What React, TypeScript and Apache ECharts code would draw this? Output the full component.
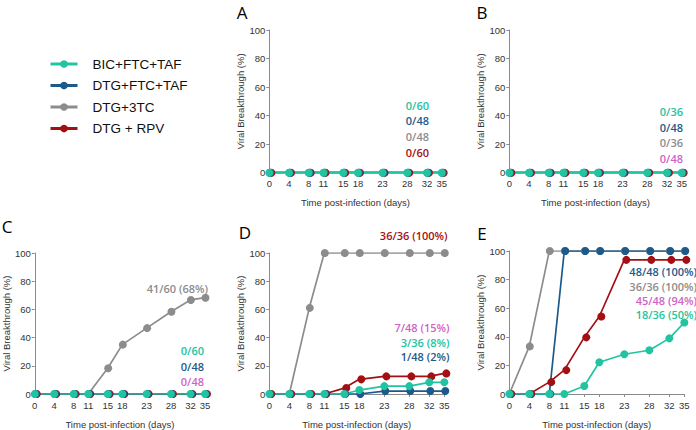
import React, { useEffect, useRef } from "react";
import * as echarts from "echarts";

// ---------- data ----------
const days = [0, 4, 8, 11, 15, 18, 23, 28, 32, 35];
const tickDays = [0, 4, 8, 11, 15, 18, 23, 28, 32, 35];
const seriesNames = ["BIC+FTC+TAF", "DTG+FTC+TAF", "DTG+3TC", "DTG + RPV"];

// Panel A
const aBic = [0, 0, 0, 0, 0, 0, 0, 0, 0, 0];
const aFtc = [0, 0, 0, 0, 0, 0, 0, 0, 0, 0];
const a3tc = [0, 0, 0, 0, 0, 0, 0, 0, 0, 0];
const aRpv = [0, 0, 0, 0, 0, 0, 0, 0, 0, 0];
// Panel B
const bBic = [0, 0, 0, 0, 0, 0, 0, 0, 0, 0];
const bFtc = [0, 0, 0, 0, 0, 0, 0, 0, 0, 0];
const b3tc = [0, 0, 0, 0, 0, 0, 0, 0, 0, 0];
const bRpv = [0, 0, 0, 0, 0, 0, 0, 0, 0, 0];
// Panel C
const cBic = [0, 0, 0, 0, 0, 0, 0, 0, 0, 0];
const cFtc = [0, 0, 0, 0, 0, 0, 0, 0, 0, 0];
const c3tc = [0, 0, 0, 0, 18.3, 35, 46.7, 58.3, 66.7, 68.3];
const cRpv = [0, 0, 0, 0, 0, 0, 0, 0, 0, 0];
// Panel D
const dBic = [0, 0, 0, 0, 0, 2.8, 5.6, 5.6, 8.3, 8.3];
const dFtc = [0, 0, 0, 0, 0, 0, 2.1, 2.1, 2.1, 2.1];
const d3tc = [0, 0, 61.1, 100, 100, 100, 100, 100, 100, 100];
const dRpv = [0, 0, 0, 0, 4.2, 10.4, 12.5, 12.5, 12.5, 14.6];
// Panel E
const eBic = [0, 0, 0, 0, 5.6, 22.2, 27.8, 30.6, 38.9, 50];
const eFtc = [0, 0, 0, 100, 100, 100, 100, 100, 100, 100];
const e3tc = [0, 33.3, 100, 100, 100, 100, 100, 100, 100, 100];
const eRpv = [0, 0, 8.3, 16.7, 39.6, 54.2, 93.8, 93.8, 93.8, 93.8];

// annotation texts
const aNotes = ["0/60", "0/48", "0/48", "0/60"];
const bNotes = ["0/36", "0/48", "0/36", "0/48"];
const cNotes = ["41/60 (68%)", "0/60", "0/48", "0/48"];
const dNotes = ["36/36 (100%)", "7/48 (15%)", "3/36 (8%)", "1/48 (2%)"];
const eNotes = ["48/48 (100%)", "36/36 (100%)", "45/48 (94%)", "18/36 (50%)"];

// ---------- styles ----------
const TEAL = "#21c4a0";
const NAVY = "#1b5a8a";
const GRAY = "#8c8c8c";
const RED = "#a30f12";
const PINK = "#cf63c6";
const seriesColors = [TEAL, NAVY, GRAY, RED];

type Note = { text: string; color: string; x: number; y: number };

const panels = [
  {
    letter: "A", lx: 242, ly: 12,
    grid: { left: 269.3, top: 30, width: 172.4, height: 142.7 },
    data: [aBic, aFtc, a3tc, aRpv],
    notes: [
      { text: aNotes[0], color: TEAL, x: 429, y: 105 },
      { text: aNotes[1], color: NAVY, x: 429, y: 120.7 },
      { text: aNotes[2], color: GRAY, x: 429, y: 136.3 },
      { text: aNotes[3], color: RED, x: 429, y: 152 },
    ] as Note[],
  },
  {
    letter: "B", lx: 482, ly: 12,
    grid: { left: 509.3, top: 30, width: 172.4, height: 142.7 },
    data: [bBic, bFtc, b3tc, bRpv],
    notes: [
      { text: bNotes[0], color: TEAL, x: 683, y: 111 },
      { text: bNotes[1], color: NAVY, x: 683, y: 127 },
      { text: bNotes[2], color: GRAY, x: 683, y: 142.7 },
      { text: bNotes[3], color: PINK, x: 683, y: 158 },
    ] as Note[],
  },
  {
    letter: "C", lx: 7, ly: 226,
    grid: { left: 32.3, top: 253, width: 172.7, height: 142.7 },
    data: [cBic, cFtc, c3tc, cRpv],
    notes: [
      { text: cNotes[0], color: GRAY, x: 208, y: 288.3 },
      { text: cNotes[1], color: TEAL, x: 204, y: 350.7 },
      { text: cNotes[2], color: NAVY, x: 204, y: 366 },
      { text: cNotes[3], color: PINK, x: 204, y: 381.7 },
    ] as Note[],
  },
  {
    letter: "D", lx: 245, ly: 232,
    grid: { left: 269.3, top: 253, width: 175, height: 142.7 },
    data: [dBic, dFtc, d3tc, dRpv],
    notes: [
      { text: dNotes[0], color: RED, x: 447.5, y: 235 },
      { text: dNotes[1], color: PINK, x: 449.5, y: 327.7 },
      { text: dNotes[2], color: TEAL, x: 449.5, y: 342.7 },
      { text: dNotes[3], color: NAVY, x: 449.5, y: 356.7 },
    ] as Note[],
  },
  {
    letter: "E", lx: 482, ly: 233,
    grid: { left: 509.3, top: 251, width: 175, height: 144.7 },
    data: [eBic, eFtc, e3tc, eRpv],
    notes: [
      { text: eNotes[0], color: NAVY, x: 697, y: 271.7 },
      { text: eNotes[1], color: GRAY, x: 697, y: 286 },
      { text: eNotes[2], color: PINK, x: 697, y: 300 },
      { text: eNotes[3], color: TEAL, x: 697, y: 314.3 },
    ] as Note[],
  },
];

const AXIS_FONT = "'Liberation Sans', Arial, sans-serif";
const NOTE_FONT = "'Open Sans', 'Noto Sans', sans-serif";

function buildOption() {
  const grids: any[] = [];
  const xAxes: any[] = [];
  const yAxes: any[] = [];
  const series: any[] = [];
  const graphics: any[] = [];
  // draw order: red, gray, navy, teal (teal on top)
  const drawOrder = [3, 2, 1, 0];
  const offsets = [[0, 0], [1, 0], [0.5, 0], [2, 0]];

  panels.forEach((p, i) => {
    grids.push({ ...p.grid, containLabel: false });
    xAxes.push({
      type: "value",
      gridIndex: i,
      min: 0,
      max: 35,
      name: "Time post-infection (days)",
      nameLocation: "middle",
      nameGap: 25,
      nameTextStyle: { fontFamily: AXIS_FONT, fontSize: 9.5, color: "#333" },
      axisLine: { show: true, lineStyle: { color: "#8a8a8a", width: 1 } },
      axisTick: { show: true, length: 3, customValues: tickDays, lineStyle: { color: "#8a8a8a" } },
      axisLabel: { customValues: tickDays, fontFamily: AXIS_FONT, fontSize: 9.5, color: "#333", margin: 6 },
      splitLine: { show: false },
    });
    yAxes.push({
      type: "value",
      gridIndex: i,
      min: 0,
      max: 100,
      interval: 20,
      name: "Viral Breakthrough (%)",
      nameLocation: "middle",
      nameGap: 23,
      nameRotate: 90,
      nameTextStyle: { fontFamily: AXIS_FONT, fontSize: 9.5, color: "#333" },
      axisLine: { show: true, lineStyle: { color: "#8a8a8a", width: 1 } },
      axisTick: { show: true, length: 3, lineStyle: { color: "#8a8a8a" } },
      axisLabel: { fontFamily: AXIS_FONT, fontSize: 9.5, color: "#333", margin: 4 },
      splitLine: { show: false },
    });
    drawOrder.forEach((k) => {
      const vals = p.data[k];
      series.push({
        type: "line",
        name: seriesNames[k],
        xAxisIndex: i,
        yAxisIndex: i,
        data: days.map((d, j) => [d, vals[j]]),
        symbol: "circle",
        symbolSize: 8,
        symbolOffset: offsets[k],
        showSymbol: true,
        lineStyle: { color: seriesColors[k], width: 1.7 },
        itemStyle: { color: seriesColors[k] },
        emphasis: { disabled: true },
        silent: true,
      });
    });
    graphics.push({
      type: "text",
      x: p.lx,
      y: p.ly,
      style: {
        text: p.letter,
        fontFamily: NOTE_FONT,
        fontSize: 17,
        fill: "#000",
        align: "center",
        verticalAlign: "middle",
      },
    });
    p.notes.forEach((n) => {
      graphics.push({
        type: "text",
        x: n.x,
        y: n.y,
        style: {
          text: n.text,
          fontFamily: NOTE_FONT,
          fontWeight: 600,
          fontSize: 11,
          fill: n.color,
          align: "right",
          verticalAlign: "middle",
        },
      });
    });
  });

  return {
    animation: false,
    backgroundColor: "#ffffff",
    grid: grids,
    xAxis: xAxes,
    yAxis: yAxes,
    series,
    graphic: graphics,
    legend: {
      orient: "vertical",
      left: 44,
      top: 52,
      itemWidth: 27,
      itemHeight: 9.5,
      itemGap: 7.5,
      data: seriesNames,
      selectedMode: false,
      lineStyle: { width: 3 },
      textStyle: {
        fontFamily: AXIS_FONT,
        fontSize: 13.5,
        lineHeight: 14,
        color: "#111",
        padding: [0, 0, 0, 10],
      },
    },
  };
}

export default function App() {
  const ref = useRef<HTMLDivElement>(null);
  useEffect(() => {
    document.body.style.margin = "0";
    if (!ref.current) return;
    const chart = echarts.init(ref.current, undefined, { renderer: "svg" });
    chart.setOption(buildOption() as any);
    return () => chart.dispose();
  }, []);
  return (
    <div
      ref={ref}
      style={{ position: "fixed", left: 0, top: 0, width: 696, height: 430, background: "#fff" }}
    />
  );
}
